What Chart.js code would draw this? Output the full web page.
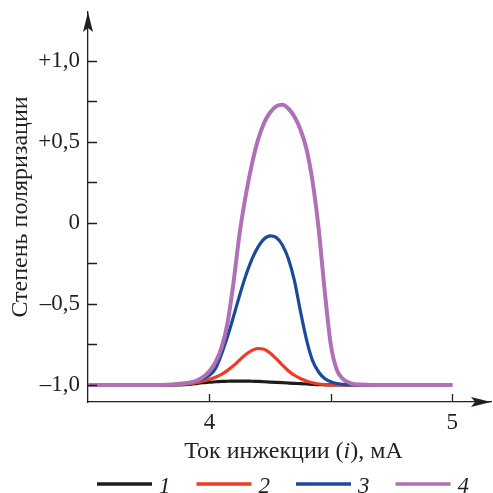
<!DOCTYPE html>
<html>
<head>
<meta charset="utf-8">
<script src="https://cdn.jsdelivr.net/npm/chart.js@4/dist/chart.umd.min.js"></script>
<style>
  html, body { margin: 0; padding: 0; background: #fff; }
  #chart { display: block; }
</style>
</head>
<body>
<canvas id="chart" width="493" height="493"></canvas>
<script>
// Injection current, mA (shared grid for all curves)
const currentValues = [3.5, 3.8, 3.85, 3.9, 3.925, 3.95, 3.975, 4.0, 4.025, 4.05, 4.075, 4.1, 4.125, 4.15, 4.175,
  4.2, 4.225, 4.25, 4.275, 4.3, 4.325, 4.35, 4.375, 4.4, 4.425, 4.45, 4.475, 4.5, 4.525, 4.55, 4.575, 4.6, 4.7, 5.0];

// Degree of polarization
const curve1 = [-1.0, -1.0, -1.0, -0.998, -0.995, -0.99, -0.986, -0.983, -0.98, -0.978, -0.977, -0.976, -0.976, -0.976, -0.977,
  -0.978, -0.98, -0.982, -0.984, -0.986, -0.988, -0.99, -0.992, -0.994, -0.996, -0.998, -0.999, -1.0, -1.0, -1.0, -1.0, -1.0, -1.0, -1.0];
const curve2 = [-1.0, -1.0, -0.999, -0.995, -0.99, -0.985, -0.975, -0.965, -0.952, -0.935, -0.91, -0.88, -0.845, -0.812, -0.787,
  -0.775, -0.78, -0.803, -0.838, -0.876, -0.912, -0.94, -0.96, -0.975, -0.986, -0.994, -0.998, -1.0, -1.0, -1.0, -1.0, -1.0, -1.0, -1.0];
const curve3 = [-1.0, -1.0, -0.998, -0.99, -0.983, -0.975, -0.962, -0.94, -0.9, -0.81, -0.7, -0.575, -0.445, -0.325, -0.225,
  -0.15, -0.1, -0.08, -0.09, -0.135, -0.22, -0.355, -0.545, -0.72, -0.85, -0.92, -0.96, -0.98, -0.991, -0.996, -0.999, -1.0, -1.0, -1.0];
const curve4 = [-1.0, -1.0, -0.997, -0.99, -0.984, -0.972, -0.95, -0.915, -0.86, -0.77, -0.615, -0.36, -0.06, 0.17, 0.36,
  0.51, 0.615, 0.68, 0.718, 0.728, 0.705, 0.655, 0.575, 0.455, 0.255, -0.035, -0.42, -0.75, -0.907, -0.963, -0.985, -0.995, -1.0, -1.0];

const seriesLabels = ['1', '2', '3', '4'];
const seriesColors = ['#1d1d1b', '#ee3b24', '#1b4a9b', '#b070b6'];

// Axis ticks and their labels
const xTickValues = [4, 4.5, 5];
const xTickLabels = { 4: '4', 5: '5' };
const yTickValues = [-1.0, -0.75, -0.5, -0.25, 0, 0.25, 0.5, 0.75, 1.0];
const yTickLabels = { '-1': '\u20131,0', '-0.5': '\u20130,5', '0': '0', '0.5': '+0,5', '1': '+1,0' };

const xTitleParts = [['Ток инжекции (', false], ['i', true], ['), мА', false]];
const yTitle = 'Степень поляризации';

const ink = '#231f20';
const serif = '"Liberation Serif", "Times New Roman", Tinos, "DejaVu Serif", serif';
Chart.defaults.font.family = serif;
Chart.defaults.color = ink;

const seriesData = [curve1, curve2, curve3, curve4];

// Inner ticks, arrow heads, x title with italic i, and the legend row
const axisDecor = {
  id: 'axisDecor',
  afterDraw(chart) {
    const { ctx, chartArea: a, scales: { x, y } } = chart;
    ctx.save();
    ctx.strokeStyle = ink;
    ctx.fillStyle = ink;
    ctx.lineWidth = 1.3;

    ctx.beginPath();
    y.ticks.forEach(t => {
      const py = Math.round(y.getPixelForValue(t.value)) + 0.5;
      ctx.moveTo(a.left, py);
      ctx.lineTo(a.left + 9, py);
    });
    x.ticks.forEach(t => {
      const px = Math.round(x.getPixelForValue(t.value)) + 0.5;
      ctx.moveTo(px, a.bottom);
      ctx.lineTo(px, a.bottom - 8);
    });
    ctx.stroke();

    // arrow heads
    ctx.beginPath();
    ctx.moveTo(a.left, a.top);
    ctx.lineTo(a.left - 5, a.top + 20);
    ctx.lineTo(a.left, a.top + 16);
    ctx.lineTo(a.left + 5, a.top + 20);
    ctx.closePath();
    ctx.fill();
    ctx.beginPath();
    ctx.moveTo(a.right, a.bottom);
    ctx.lineTo(a.right - 20, a.bottom - 5);
    ctx.lineTo(a.right - 16, a.bottom);
    ctx.lineTo(a.right - 20, a.bottom + 5);
    ctx.closePath();
    ctx.fill();

    // x title
    ctx.textBaseline = 'alphabetic';
    ctx.textAlign = 'left';
    const fontOf = (it, size) => (it ? 'italic ' : '') + size + 'px ' + serif;
    let total = 0;
    xTitleParts.forEach(([s, it]) => { ctx.font = fontOf(it, 24); total += ctx.measureText(s).width; });
    let tx = (a.left + a.right) / 2 - total / 2 + 4;
    xTitleParts.forEach(([s, it]) => {
      ctx.font = fontOf(it, 24);
      ctx.fillText(s, tx, 458);
      tx += ctx.measureText(s).width;
    });

    // legend
    let lx = a.left + 9;
    ctx.font = fontOf(true, 23);
    chart.data.datasets.forEach(ds => {
      ctx.strokeStyle = ds.borderColor;
      ctx.lineWidth = 3.5;
      ctx.beginPath();
      ctx.moveTo(lx, 484);
      ctx.lineTo(lx + 55, 484);
      ctx.stroke();
      ctx.fillStyle = ink;
      ctx.fillText(ds.label, lx + 62, 493);
      lx += 55 + 8 + ctx.measureText(ds.label).width + 25;
    });
    ctx.restore();
  }
};

function draw() {
  new Chart(document.getElementById('chart'), {
    type: 'line',
    data: {
      datasets: seriesData.map((vals, i) => ({
        label: seriesLabels[i],
        data: currentValues.map((cx, j) => ({ x: cx, y: vals[j] })),
        borderColor: seriesColors[i],
        backgroundColor: seriesColors[i],
        borderWidth: i === 3 ? 4 : 3.2,
        pointRadius: 0,
        cubicInterpolationMode: 'monotone',
        order: 3 - i,
      })),
    },
    options: {
      responsive: false,
      animation: false,
      layout: { padding: { top: 12, right: 2, left: 0, bottom: 0 } },
      plugins: {
        legend: { display: false },
        tooltip: { enabled: false },
      },
      scales: {
        x: {
          type: 'linear',
          min: 3.5,
          max: 5.16,
          afterFit: s => { s.height = 91; s.paddingLeft = 0; s.paddingRight = 0; },
          afterBuildTicks: s => { s.ticks = xTickValues.map(v => ({ value: v })); },
          grid: { display: false, drawTicks: false },
          border: { display: true, color: ink, width: 1.3 },
          ticks: {
            autoSkip: false,
            maxRotation: 0,
            padding: 7,
            font: { size: 23 },
            color: ink,
            callback: v => xTickLabels[v] || '',
          },
        },
        y: {
          min: -1.105,
          max: 1.3,
          afterFit: s => { s.width = 88; s.paddingTop = 0; s.paddingBottom = 0; },
          afterBuildTicks: s => { s.ticks = yTickValues.map(v => ({ value: v })); },
          grid: { display: false, drawTicks: false },
          border: { display: true, color: ink, width: 1.3 },
          title: {
            display: true,
            text: yTitle,
            font: { size: 24 },
            color: ink,
            padding: { top: 6, bottom: 0 },
          },
          ticks: {
            autoSkip: false,
            padding: 8,
            font: { size: 23 },
            color: ink,
            callback: v => yTickLabels[String(v)] || '',
          },
        },
      },
    },
    plugins: [axisDecor],
  });
}

Promise.all([
  document.fonts.load('23px "Liberation Serif"'),
  document.fonts.load('italic 23px "Liberation Serif"'),
]).catch(() => {}).then(draw);
</script>
</body>
</html>
